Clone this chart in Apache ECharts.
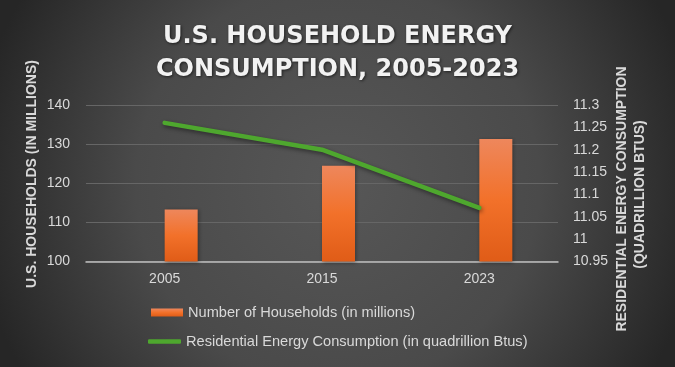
<!DOCTYPE html>
<html>
<head>
<meta charset="utf-8">
<script src="https://cdn.jsdelivr.net/npm/echarts@6/dist/echarts.min.js"></script>
<style>html,body{margin:0;padding:0;background:#2b2b2b;}#c{width:675px;height:367px;}</style>
</head>
<body>
<div id="c"></div>
<script>
const categories = ['2005', '2015', '2023'];
const households = [113.3, 124.5, 131.3];
const energy = [11.26, 11.2, 11.07];
const leftTicks = { min: 100, max: 140, interval: 10 };
const rightTicks = { min: 10.95, max: 11.3, interval: 0.05 };
const barName = 'Number of Households (in millions)';
const lineName = 'Residential Energy Consumption (in quadrillion Btus)';
const titleText = 'U.S. HOUSEHOLD ENERGY\nCONSUMPTION, 2005-2023';
const leftAxisTitle = 'U.S. HOUSEHOLDS (IN MILLIONS)';
const rightAxisTitle1 = 'RESIDENTIAL ENERGY CONSUMPTION';
const rightAxisTitle2 = '(QUADRILLION BTUS)';

const txt = '#d9d9d9';
const font = '"Liberation Sans", Arial, sans-serif';
const chart = echarts.init(document.getElementById('c'), null, { renderer: 'canvas' });
chart.setOption({
  animation: false,
  backgroundColor: {
    type: 'radial', x: 0.5, y: 0.5, r: 1.0,
    colorStops: [{ offset: 0, color: '#575757' }, { offset: 0.55, color: '#4a4a4a' }, { offset: 1, color: '#262626' }]
  },
  title: {
    text: titleText, left: 'center', top: 15,
    textStyle: {
      fontFamily: '"DejaVu Sans", sans-serif', fontWeight: 'bold', fontSize: 24, lineHeight: 33,
      color: '#f2f2f2', textShadowColor: 'rgba(0,0,0,0.6)', textShadowBlur: 3, textShadowOffsetX: 1, textShadowOffsetY: 1
    }
  },
  graphic: [
    { type: 'text', x: 32, y: 174, rotation: Math.PI / 2,
      style: { text: leftAxisTitle, fill: txt, font: 'bold 14px "Liberation Sans", Arial', textAlign: 'center', textVerticalAlign: 'middle' } },
    { type: 'text', x: 622, y: 199, rotation: Math.PI / 2,
      style: { text: rightAxisTitle1, fill: txt, font: 'bold 14px "Liberation Sans", Arial', textAlign: 'center', textVerticalAlign: 'middle' } },
    { type: 'text', x: 640, y: 194.5, rotation: Math.PI / 2,
      style: { text: rightAxisTitle2, fill: txt, font: 'bold 14px "Liberation Sans", Arial', textAlign: 'center', textVerticalAlign: 'middle' } }
  ],
  legend: [
    { data: [{ name: barName, icon: 'rect' }], left: 151, top: 305, padding: 0, itemWidth: 32, itemHeight: 8, itemGap: 5,
      textStyle: { color: txt, fontFamily: font, fontSize: 14.6 } },
    { data: [{ name: lineName, icon: 'roundRect' }], left: 148, top: 334, padding: 0, itemWidth: 33, itemHeight: 4.5, itemGap: 5,
      textStyle: { color: txt, fontFamily: font, fontSize: 14.6 } }
  ],
  grid: { left: 86, right: 117, top: 105, bottom: 105.5, containLabel: false },
  xAxis: {
    type: 'category', data: categories, boundaryGap: true,
    axisTick: { show: false },
    axisLine: { lineStyle: { color: '#bfbfbf', width: 1.5 } },
    axisLabel: { color: txt, fontFamily: font, fontSize: 14, margin: 11 }
  },
  yAxis: [
    { type: 'value', min: leftTicks.min, max: leftTicks.max, interval: leftTicks.interval,
      axisLine: { show: false }, axisTick: { show: false },
      splitLine: { lineStyle: { color: '#666666', width: 1 } },
      axisLabel: { color: txt, fontFamily: font, fontSize: 14, margin: 16, padding: [5, 0, 0, 0] } },
    { type: 'value', min: rightTicks.min, max: rightTicks.max, interval: rightTicks.interval,
      axisLine: { show: false }, axisTick: { show: false }, splitLine: { show: false },
      axisLabel: { color: txt, fontFamily: font, fontSize: 14, margin: 15,
        formatter: v => String(parseFloat(v.toFixed(2))) } }
  ],
  series: [
    { name: '_spacer', type: 'bar', data: categories.map(() => '-'), barWidth: 33, barGap: '0%', silent: true },
    { name: barName, type: 'bar', yAxisIndex: 0, data: households, barWidth: 33, barGap: '0%',
      itemStyle: {
        color: { type: 'linear', x: 0, y: 0, x2: 0, y2: 1,
          colorStops: [{ offset: 0, color: '#ee875c' }, { offset: 0.5, color: '#f2712a' }, { offset: 1, color: '#e05c17' }] },
        shadowColor: 'rgba(0,0,0,0.35)', shadowBlur: 4, shadowOffsetX: 1, shadowOffsetY: 1
      } },
    { name: lineName, type: 'line', yAxisIndex: 1, data: energy, showSymbol: false, symbol: 'none',
      color: '#4ea72e',
      lineStyle: { color: '#4ea72e', width: 4.5, cap: 'round', join: 'round',
        shadowColor: 'rgba(0,0,0,0.45)', shadowBlur: 4, shadowOffsetX: 1, shadowOffsetY: 2 } }
  ]
});
</script>
</body>
</html>
